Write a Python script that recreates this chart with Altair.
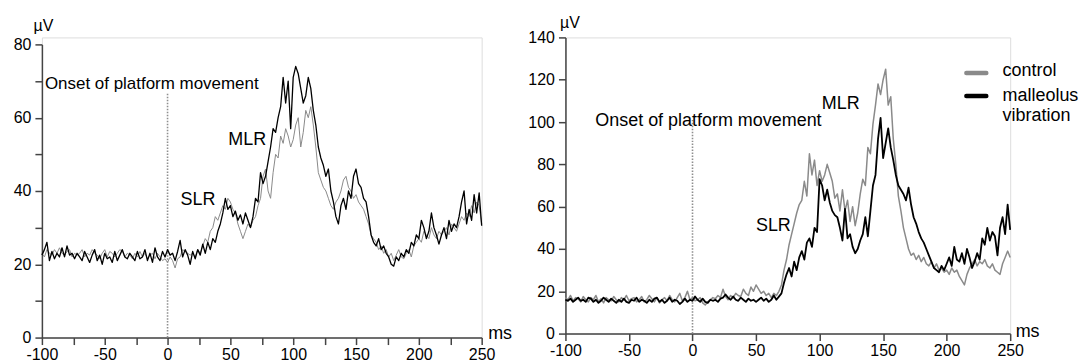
import altair as alt
import pandas as pd

FONT = "Liberation Sans"
AX = "#444444"
GRAY = "#8a8a8a"

# time grid (ms), 2 ms sampling
t_ms = list(range(-100, 251, 2))

# ---- left panel (µV) ----
left_vibration = [
    22.5, 24, 26, 21, 23.5, 21.5, 23, 22, 24.5, 22,          # -100..-82
    25, 22.5, 23, 21.5, 23, 22, 21, 23.5, 22, 20.5,          # -80..-62
    22.5, 24, 21, 22.5, 20, 23, 21.5, 22, 20.5, 23.5,        # -60..-42
    21, 22.5, 24, 22, 21.5, 23, 22, 21, 23.5, 21.5,          # -40..-22
    22, 24, 21, 23, 20.5, 24.5, 22, 21, 23.5, 22,            # -20..-2
    24, 22.5, 23, 21, 23.5, 26.5, 22, 24, 22.5, 20,          # 0..18
    23.5, 21.5, 24, 22.5, 25.5, 23, 26, 24, 27, 26,          # 20..38
    29, 31, 34, 38, 35, 36, 33, 34.5, 32, 33.5,              # 40..58
    31, 34, 32, 30, 33, 38, 37, 45, 42, 44,                  # 60..78
    48, 52, 57, 56, 60, 63, 71, 64, 70, 57,                  # 80..98
    71, 74, 72, 68, 64, 66, 71, 68, 62, 58,                  # 100..118
    52, 49, 47, 44, 46, 40, 37, 33, 31, 36,                  # 120..138
    38, 35, 40, 38, 44, 46, 42, 41, 38, 37,                  # 140..158
    33, 28, 26, 25, 27, 24, 25, 23, 22, 20,                  # 160..178
    19.5, 22, 21, 23, 22, 24, 23, 26, 25, 28,                # 180..198
    27, 32, 30, 27, 29, 34, 30, 28, 25.5, 28,                # 200..218
    30, 27, 32, 29, 31, 30, 33, 37, 40, 31,                  # 220..238
    35, 32, 39, 34, 39.5, 30.5,                              # 240..250
]
left_control = [
    23, 22, 24, 23, 22.5, 24, 23, 24.5, 23, 22.5,
    23.5, 24, 22, 23, 22.5, 23, 24, 22, 23, 22.5,
    24, 23, 22.5, 21.5, 23, 24, 22, 23.5, 23, 22,
    23, 24, 23.5, 22, 23, 22.5, 21.5, 23, 22, 23.5,
    22, 23, 21.5, 22.5, 23, 21.5, 23, 22, 21, 21.5,
    20.5, 22, 21, 19, 21.5, 22, 24, 23.5, 23, 22.5,
    23, 22, 24, 23, 25, 27, 26, 29, 30, 33,
    32, 34, 36, 35, 38, 37, 35, 34, 31, 29,
    27, 29, 31, 30, 32, 33, 36, 38, 44, 46,
    40, 38, 45, 50, 49, 55, 53, 57, 55, 52,
    54, 58, 60, 52, 56, 62, 60, 63, 58, 52,
    45, 43, 41, 40, 38, 36, 35, 37, 38, 40,
    43, 44, 41, 40, 38, 39, 37, 36, 35, 33,
    31, 28, 27, 26, 24, 25, 23, 24, 22, 23,
    21, 22.5, 24, 22, 21.5, 23, 24, 22, 25, 26,
    27, 26, 29, 28, 27, 30, 28, 27, 29, 28,
    29, 30, 28, 31, 30, 29, 31, 33, 32, 34,
    33, 36, 34, 37, 36, 31,
]

# ---- right panel (µV) ----
right_vibration = [
    16, 15.5, 16.5, 15, 16, 17, 15.5, 16, 15, 17,
    16.5, 15, 16, 14.5, 15.5, 17, 16, 15, 16.5, 15.5,
    14.5, 16, 15, 16.5, 15, 14.5, 16, 15.5, 17, 15,
    16, 15.5, 14.5, 16, 15, 16.5, 17, 15, 16, 14.5,
    15.5, 17, 15, 16, 15.5, 14, 15, 16.5, 15, 16,
    15.5, 17.5, 16, 15, 16.5, 15, 14.5, 16, 15.5, 16,
    15, 16.5, 17, 18.5, 17, 16, 17.5, 16, 15.5, 17,
    16, 15, 16.5, 15.5, 16, 15, 16, 17, 15.5, 16.5,
    15, 16, 18, 16, 17.5, 19, 24, 28, 31, 27,
    34, 30, 36, 39, 35, 43, 45, 41, 50, 48,
    73, 70, 63, 68, 62, 58, 56, 55, 50, 44,
    59, 45, 47, 41, 38, 40, 44, 47, 55, 46,
    58, 70, 75, 92, 102, 83, 90, 97, 88, 82,
    75, 70, 68, 66, 63, 69, 61, 55, 52, 48,
    45, 43, 40, 37, 34, 31, 30, 29, 32, 30,
    33, 36, 32, 41, 35, 34, 38, 33, 40, 36,
    31, 34, 38, 35, 45, 42, 50, 44, 48, 46,
    37, 50, 55, 47, 61, 49,
]
right_control = [
    17, 16, 18, 15.5, 17, 16.5, 15, 17.5, 16, 15,
    17, 16, 18, 15, 16.5, 14.5, 17, 16, 15.5, 17.5,
    16, 15, 17, 16, 18, 15.5, 16.5, 17, 15, 16,
    17.5, 15, 16, 18, 16.5, 15, 17, 14.5, 16, 17,
    15.5, 18, 16, 15, 17, 19, 15.5, 17, 20, 16,
    17, 15.5, 16, 17, 14.5, 13.5, 15, 16, 17, 16.5,
    18, 17, 21, 17.5, 16, 18, 17, 19, 18, 17.5,
    21, 19, 18, 22, 20, 23, 21, 19, 20, 18,
    19, 17, 19, 18, 20, 23, 30, 35, 42, 47,
    52, 57, 61, 63, 72, 65, 85, 75, 82, 70,
    77, 72, 75, 80, 76, 72, 64, 66, 58, 68,
    58, 63, 53, 60, 51, 57, 66, 73, 70, 88,
    85, 99, 108, 118, 113, 120, 125, 108, 112, 92,
    80, 65, 58, 50, 45, 40, 37, 38, 35, 37,
    34, 36, 33, 32, 34, 31, 33, 30, 31, 29,
    30, 28, 31, 29, 30, 27, 25, 23, 28, 31,
    33, 35, 32, 34, 33, 35, 32, 31, 33, 30,
    29, 28, 33, 36, 39, 36,
]

series_names = ["control", "malleolus vibration"]

# annotations (data coordinates of text anchors)
left_notes = ["Onset of platform movement", "SLR", "MLR"]
left_note_t = [-97.6, 10.3, 48.4]
left_note_v = [69.1, 37.5, 54.0]
left_note_fs = [17, 18, 18]
right_notes = ["Onset of platform movement", "SLR", "MLR"]
right_note_t = [-76.5, 49.9, 101.7]
right_note_v = [100.4, 50.9, 108.7]
right_note_fs = [18, 18, 18]
onset_top = [66.7, 101.0]

legend_labels = ["control", "malleolus", "vibration"]
legend_label_t = [244.0, 244.0, 244.0]
legend_label_v = [124.0, 112.3, 102.8]
legend_sym_t = [215.5, 231.2]
legend_sym_v = [123.2, 112.3]


def make_axes(yvals, ylab_expr, xvals, xlab_expr, ydomain, yrange, ut_x, ut_y, ms_x, ms_y):
    xaxis = alt.Axis(
        values=xvals, labelExpr=xlab_expr, title="ms", titleX=ms_x, titleY=ms_y,
        titleAngle=0, titleAlign="left", titleBaseline="middle", grid=False,
        domainColor=AX, domainWidth=1.5, tickColor=AX, tickWidth=1.5, tickSize=7,
        labelFont=FONT, labelFontSize=16, labelColor="black", labelPadding=2,
        labelFlush=False, labelOverlap=False,
        titleFont=FONT, titleFontSize=18, titleFontWeight="normal", titleColor="black",
    )
    yaxis = alt.Axis(
        values=yvals, labelExpr=ylab_expr, title="µV", titleX=ut_x, titleY=ut_y,
        titleAngle=0, titleAlign="center", titleBaseline="middle", grid=False,
        domainColor=AX, domainWidth=1.5, tickColor=AX, tickWidth=1.5, tickSize=7,
        labelFont=FONT, labelFontSize=16, labelColor="black", labelPadding=4,
        labelFlush=False, labelOverlap=False,
        titleFont=FONT, titleFontSize=16, titleFontWeight="normal", titleColor="black",
    )
    X = alt.X("t:Q", scale=alt.Scale(domain=[-100, 250], nice=False, zero=False), axis=xaxis)
    Y = alt.Y("v:Q", scale=alt.Scale(domain=ydomain, range=yrange, nice=False, zero=True), axis=yaxis)
    return X, Y


def make_panel(vib, ctl, X, Y, w_ctl, w_vib, top, notes, nt, nv, nfs, width, height, legend=False):
    ctl_df = pd.DataFrame({"t": t_ms, "v": ctl})
    vib_df = pd.DataFrame({"t": t_ms, "v": vib})
    onset_df = pd.DataFrame({"t": [0, 0], "v": [0, top]})
    note_df = pd.DataFrame({"t": nt, "v": nv, "label": notes, "fs": nfs})

    layers = [
        alt.Chart(onset_df).mark_line(color="#8f8f8f", strokeWidth=1.6, strokeDash=[1.5, 1.5]).encode(X, Y),
        alt.Chart(ctl_df).mark_line(color=GRAY, strokeWidth=w_ctl, strokeJoin="round").encode(X, Y),
        alt.Chart(vib_df).mark_line(color="black", strokeWidth=w_vib, strokeJoin="round").encode(X, Y),
        alt.Chart(note_df).mark_text(align="left", baseline="middle", font=FONT, color="black").encode(
            X, Y, text="label:N", size=alt.Size("fs:Q", scale=None, legend=None)),
    ]
    if legend:
        sym_c = pd.DataFrame({"t": legend_sym_t, "v": [legend_sym_v[0]] * 2})
        sym_v = pd.DataFrame({"t": legend_sym_t, "v": [legend_sym_v[1]] * 2})
        lab = pd.DataFrame({"t": legend_label_t, "v": legend_label_v, "label": legend_labels})
        layers += [
            alt.Chart(sym_c).mark_line(color=GRAY, strokeWidth=4.5, strokeCap="round").encode(X, Y),
            alt.Chart(sym_v).mark_line(color="black", strokeWidth=4.5, strokeCap="round").encode(X, Y),
            alt.Chart(lab).mark_text(align="left", baseline="middle", font=FONT, fontSize=18,
                                     color="black").encode(X, Y, text="label:N"),
        ]
    return alt.layer(*layers).properties(width=width, height=height)


XL, YL = make_axes(list(range(0, 81, 10)), "datum.value % 20 == 0 ? toString(datum.value) : ''",
                   list(range(-100, 251, 25)), "datum.value % 50 == 0 ? toString(datum.value) : ''",
                   [0, 80], [301, 7], 1, -12, 447, -4)
XR, YR = make_axes(list(range(0, 141, 20)), "toString(datum.value)",
                   list(range(-100, 251, 50)), "toString(datum.value)",
                   [0, 140], [297, 0], 4, -15, 451, -2)

left = make_panel(left_vibration, left_control, XL, YL, 1.0, 1.3, onset_top[0],
                  left_notes, left_note_t, left_note_v, left_note_fs, 441, 301)
right = make_panel(right_vibration, right_control, XR, YR, 1.5, 1.8, onset_top[1],
                   right_notes, right_note_t, right_note_v, right_note_fs, 446, 297, legend=True)

chart = alt.hconcat(left, right, spacing=84, bounds="flush").properties(
    padding={"left": 4, "top": 5, "right": 0, "bottom": 0}
).configure_view(stroke=None).configure(background="white")

chart.save("out.html", embed_options={"renderer": "svg", "actions": False})
